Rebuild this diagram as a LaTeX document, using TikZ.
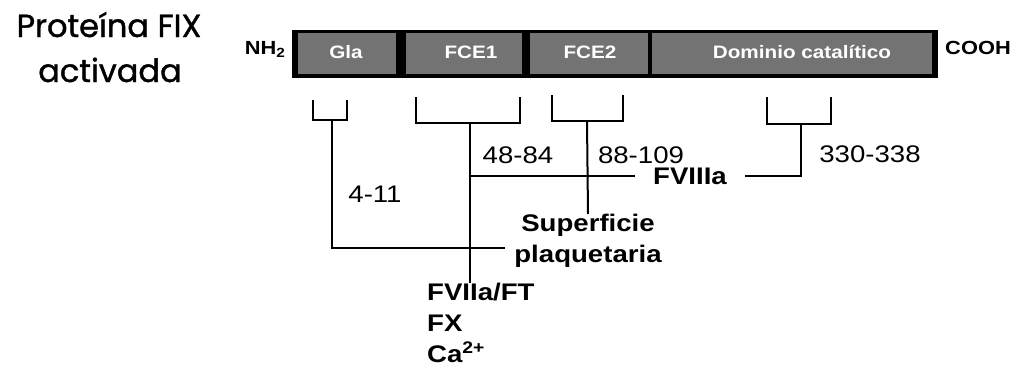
\documentclass[tikz,border=0pt]{standalone}
\usepackage{fontspec}
\setmainfont[FakeStretch=1.15]{Liberation Sans}
\newfontfamily\TitleFace[FakeBold=1.2]{Poppins}
\usepackage{tikz}
\newcommand{\TitleFont}{\TitleFace\fontsize{32}{45}\selectfont}
\newcommand{\BarFont}{\fontsize{18}{22}\selectfont\bfseries}
\newcommand{\EndFont}{\fontsize{19}{22}\selectfont\bfseries}
\newcommand{\TagFont}{\fontsize{24}{31}\selectfont}

\tikzset{
  domainbox/.style={fill=black!55,draw=none},
  barlabel/.style={text=white,anchor=base,inner sep=0pt,font=\BarFont},
  bracket/.style={line width=2pt},
  link/.style={line width=2pt},
  rangelabel/.style={anchor=base,inner sep=0pt,font=\TagFont},
  partner/.style={inner sep=0pt,font=\TagFont\bfseries},
}

\begin{document}
\begin{tikzpicture}[x=1pt,y=-1pt]
        \useasboundingbox (0,0) rectangle (1031,367);
        % title
        \node[anchor=base,font=\TitleFont] (title1) at (109,37) {Proteína FIX};
        \node[anchor=base,font=\TitleFont] (title2) at (110,82) {activada};
        % protein bar
        \fill[black] (292,30) rectangle (938,78);
        \fill[domainbox] (298,33) rectangle (396,74);
        \fill[domainbox] (406,33) rectangle (522,74);
        \fill[domainbox] (530,33) rectangle (648,74);
        \fill[domainbox] (652,33) rectangle (932,74);
        \node[barlabel] (gla) at (346,58) {Gla};
        \node[barlabel] (fce1) at (471,58) {FCE1};
        \node[barlabel] (fce2) at (590,58) {FCE2};
        \node[barlabel] (cat) at (802,58) {Dominio catalítico};
        \node[anchor=base east,font=\EndFont] (nh) at (289,54) {NH\textsubscript{2}};
        \node[anchor=base,font=\EndFont] (cooh) at (978,54) {COOH};
        % brackets under the domains
        \draw[bracket] (313,100) |- (347,120) -- (347,100);
        \draw[bracket] (416,97) |- (520,123) -- (520,97);
        \draw[bracket] (552,95) |- (623,121) -- (623,95);
        \draw[bracket] (767,97) |- (831,124) -- (831,97);
        \coordinate (glaB) at (332,120);
        \coordinate (fce1B) at (470,123);
        \coordinate (fce2B) at (587,121);
        \coordinate (catB) at (801,124);
        % residue ranges
        \node[rangelabel] (r411) at (375,202) {4-11};
        \node[rangelabel] (r4884) at (518,163) {48-84};
        \node[rangelabel] (r88109) at (641,163) {88-109};
        \node[rangelabel] (r330338) at (870,162) {330-338};
        % binding partners
        \node[partner,inner xsep=18pt] (fviii) at (690,176) {FVIIIa};
        \node[partner,align=center,anchor=north] (plat) at (588,214) {Superficie\\plaquetaria};
        \node[partner,align=left,anchor=north west] (fvii) at (427,283) {FVIIa/FT\\FX\\Ca\textsuperscript{2+}};
        \coordinate (platEnd) at (505,248);
        % connectors
        \draw[link] (glaB) |- (platEnd);
        \draw[link] (fce1B) -- (fce1B |- fvii.north);
        \draw[link] (fce2B) -- (plat.north);
        \draw[link] (fviii.west) -- (fviii.west -| fce1B);
        \draw[link] (fviii.east) -| (catB);
        % \draw[link] (fce2B) -- (fviii.north);
      \end{tikzpicture}
\end{document}
